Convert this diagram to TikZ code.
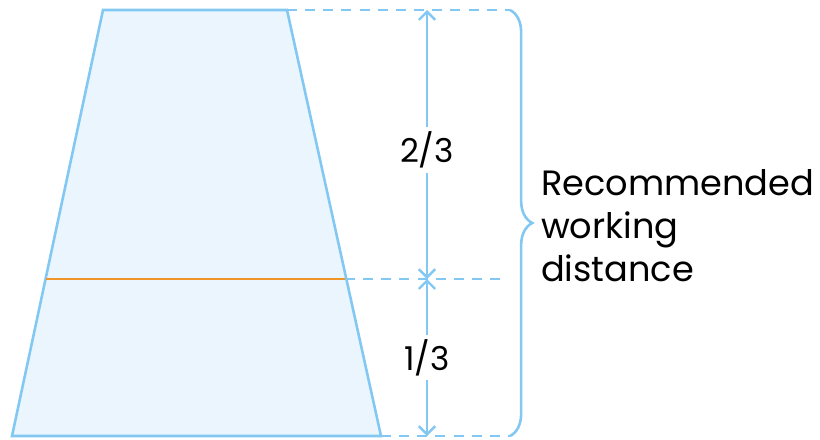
\documentclass[tikz,border=0pt]{standalone}
\usepackage{fontspec}
\setmainfont{Poppins}
\usetikzlibrary{arrows.meta, positioning, calc, decorations.pathreplacing}
\definecolor{lineblue}{RGB}{130,200,242}
\definecolor{fillblue}{RGB}{234,245,253}
\definecolor{cutorange}{RGB}{240,150,40}

\begin{document}
\begin{tikzpicture}[
  x=0.03cm, y=-0.03cm,
  outline/.style={draw=lineblue, fill=fillblue, line width=2.2pt, line join=miter},
  guide/.style={draw=lineblue, line width=2pt, dash pattern=on 8.5pt off 7pt},
  dim/.style={{Straight Barb[length=7pt, width=14pt]}-{Straight Barb[length=7pt, width=14pt]}, draw=lineblue, line width=2pt},
  frac/.style={fill=white, inner sep=4pt, font=\fontsize{28}{32}\selectfont},
  brace/.style={draw=lineblue, line width=2.2pt, decorate, decoration={brace, amplitude=19pt}}
]

  \useasboundingbox (0,0) rectangle (820,439);

  % Trapezoid corners
  \coordinate (tl) at (103,10);
  \coordinate (tr) at (287,10);
  \coordinate (br) at (381,436);
  \coordinate (bl) at (12,436);
  \filldraw[outline] (tl) -- (tr) -- (br) -- (bl) -- cycle;

  % Cut line at one third
  \coordinate (ml) at (46,279);
  \coordinate (mr) at (345,279);
  \draw[cutorange, line width=2.4pt] (ml) -- (mr);

  % Guide ends
  \coordinate (gtop) at (510,10);
  \coordinate (gmid) at (505,279);
  \coordinate (gbot) at (510,436);
  \draw[guide] (tr) -- (gtop);
  \draw[guide] (mr) -- (gmid);
  \draw[guide] (br) -- (gbot);

  % Dimension arrows
  \coordinate (atop) at (427,10);
  \coordinate (amid) at (427,279);
  \coordinate (abot) at (427,436);
  \draw[dim] (amid) -- node[frac, pos=0.48] (upper) {2/3} (atop);
  \draw[dim] (abot) -- node[frac] (lower) {1/3} (amid);

  % Brace and label
  \draw[brace] (gtop) -- (gbot);
  \node[anchor=west, align=left, font=\fontsize{30}{36.6}\selectfont] (label) at (537,226)
        {Recommended\\working\\distance};

\end{tikzpicture}
\end{document}
